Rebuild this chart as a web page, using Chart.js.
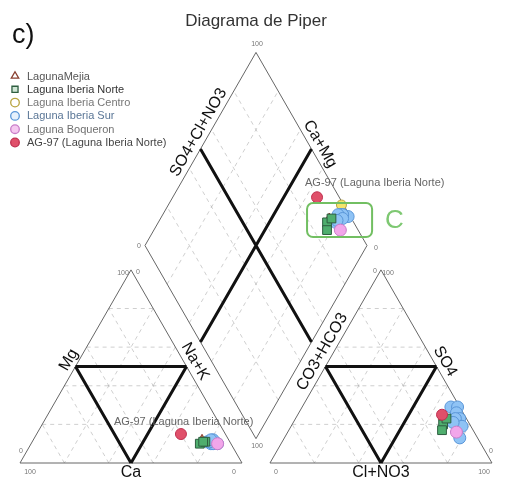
<!DOCTYPE html>
<html><head><meta charset="utf-8">
<script src="https://cdn.jsdelivr.net/npm/chart.js@4/dist/chart.umd.min.js"></script>
<style>html,body{margin:0;padding:0;background:#fff;overflow:hidden}#wrap{position:relative;width:509px;height:478px}</style>
</head><body><div id="wrap"><canvas id="c" width="509" height="478"></canvas></div>
<script>
// ---------------- DATA ----------------
const seriesNames = ["LagunaMejia", "Laguna Iberia Norte", "Laguna Iberia Centro", "Laguna Iberia Sur", "Laguna Boqueron", "AG-97 (Laguna Iberia Norte)"];
// cations in % meq: [Ca, Mg, Na+K]
const mejiaCations   = [[12, 12, 76]];
const norteCations   = [[14, 10, 76], [11, 11, 78], [12, 11, 77]];
const centroCations  = [[11, 11, 78]];
const surCations     = [[9, 11, 80], [6, 10, 84], [9, 10, 81], [7, 12, 81], [10, 11, 79], [8, 10, 82], [9, 11, 80], [8, 12, 80]];
const boqueronCations= [[6, 10, 84]];
const ag97Cations    = [[20, 15, 65]];
// anions in % meq: [CO3+HCO3, SO4, Cl+NO3]
const mejiaAnions    = [[10, 24, 66]];
const norteAnions    = [[12, 20, 68], [14, 17, 69], [9, 23, 68]];
const centroAnions   = [[1, 29, 70]];
const surAnions      = [[4, 29, 67], [1, 29, 70], [3, 26, 71], [3, 23, 74], [5, 23, 72], [4, 19, 77], [8, 13, 79], [7, 21, 72]];
const boqueronAnions = [[8, 16, 76]];
const ag97Anions     = [[10, 25, 65]];
const gridLevels = [20, 40, 60, 80];
const centerLevel = [50];

// ---------------- GEOMETRY (Piper projection) ----------------
const GAP = 12.6;                 // gap between the two triangles, % units
const H = Math.sqrt(3) / 2;
function cationXY(c) { const t = c[0] + c[1] + c[2]; const mg = c[1] / t * 100, na = c[2] / t * 100; return { x: na + mg / 2, y: mg * H }; }
function anionXY(a) { const t = a[0] + a[1] + a[2]; const so4 = a[1] / t * 100, cl = a[2] / t * 100; return { x: 100 + GAP + cl + so4 / 2, y: so4 * H }; }
function diamondXY(p1, p2) { const t = (p2.x - p1.x) + (p2.y - p1.y) / Math.sqrt(3); return { x: p1.x + 0.5 * t, y: p1.y + H * t }; }
const lerp = (a, b, f) => ({ x: a.x + (b.x - a.x) * f, y: a.y + (b.y - a.y) * f });

const LA = { x: 0, y: 0 }, LB = { x: 100, y: 0 }, LC = { x: 50, y: 100 * H };
const RA = { x: 100 + GAP, y: 0 }, RB = { x: 200 + GAP, y: 0 }, RC = { x: 150 + GAP, y: 100 * H };
const DB = { x: 100 + GAP / 2, y: GAP * H }, DL = { x: 50 + GAP / 2, y: GAP * H + 100 * H }, DR = { x: 150 + GAP / 2, y: GAP * H + 100 * H }, DT = { x: 100 + GAP / 2, y: GAP * H + 200 * H };

function triLines(A, B, C, levels) {
  const out = [];
  const corners = [[A, B, C], [B, C, A], [C, A, B]];
  levels.forEach(l => {
    const f = l / 100;
    corners.forEach(([V, U, W]) => { out.push(lerp(U, V, f), lerp(W, V, f), { x: null, y: null }); });
  });
  return out;
}
function diaLines(levels) {
  const out = [];
  levels.forEach(l => {
    const f = l / 100;
    out.push(lerp(DB, DR, f), lerp(DL, DT, f), { x: null, y: null });
    out.push(lerp(DB, DL, f), lerp(DR, DT, f), { x: null, y: null });
  });
  return out;
}
const frame = [LA, LB, LC, LA, { x: null, y: null }, RA, RB, RC, RA, { x: null, y: null }, DB, DR, DT, DL, DB];
const grid = [...triLines(LA, LB, LC, gridLevels), ...triLines(RA, RB, RC, gridLevels), ...diaLines(gridLevels)];
const thick = [...triLines(LA, LB, LC, centerLevel), ...triLines(RA, RB, RC, centerLevel), ...diaLines(centerLevel)];

function samples(cats, ans) {
  const pts = [];
  for (let i = 0; i < cats.length; i++) { const p1 = cationXY(cats[i]), p2 = anionXY(ans[i]); pts.push(p1, p2, diamondXY(p1, p2)); }
  return pts;
}
const styles = [
  { ps: 'triangle', bg: '#c8735a', bc: '#8a4030', r: 5.5, lbg: '#ffffff', tc: '#555' },
  { ps: 'rect', bg: '#4fae6e', bc: '#2e5e40', r: 6.2, lbg: '#cfe6d5', tc: '#333' },
  { ps: 'circle', bg: '#f4e46a', bc: '#b8a440', r: 5, lbg: '#ffffff', tc: '#777' },
  { ps: 'circle', bg: '#8fc3f5', bc: '#5a96d8', r: 6, lbg: '#e6f1fc', tc: '#5a7696' },
  { ps: 'circle', bg: '#f2a6ea', bc: '#c87cc8', r: 6, lbg: '#f5c8f0', tc: '#707070' },
  { ps: 'circle', bg: '#e0506a', bc: '#c03050', r: 5.5, lbg: '#e0506a', tc: '#444' }
];
const allCats = [mejiaCations, norteCations, centroCations, surCations, boqueronCations, ag97Cations];
const allAns = [mejiaAnions, norteAnions, centroAnions, surAnions, boqueronAnions, ag97Anions];
const drawOrder = [6, 1, 5, 4, 3, 0];
const datasets = seriesNames.map((n, i) => ({
  label: n, data: samples(allCats[i], allAns[i]), pointStyle: styles[i].ps,
  backgroundColor: styles[i].bg, borderColor: styles[i].bc, pointRadius: styles[i].r, pointBorderWidth: 1,
  showLine: false, order: drawOrder[i], clip: false
}));
datasets.push({ label: 'grid', data: grid, showLine: true, pointRadius: 0, borderColor: 'rgba(120,120,120,0.45)', borderWidth: 0.8, borderDash: [4, 4], order: 30, clip: false });
datasets.push({ label: 'frame', data: frame, showLine: true, pointRadius: 0, borderColor: '#666', borderWidth: 1, order: 25, clip: false });
datasets.push({ label: 'thick', data: thick, showLine: true, pointRadius: 0, borderColor: '#111', borderWidth: 3, order: 20, clip: false });

// annotation box around group C (in diagram units)
const boxC = { x0: 129.3, x1: 158.6, y0: 101.3, y1: 116.6 };

// ---------------- SCALE MAPPING ----------------
const KX = 2.22, OX = 20, KY = 2.23, OY = 463;
const xMin = -OX / KX, xMax = (509 - OX) / KX, yMin = -(478 - OY) / KY, yMax = OY / KY;

const textPlugin = {
  id: 'piperText',
  afterDatasetsDraw(chart) {
    const ctx = chart.ctx, xs = chart.scales.x, ys = chart.scales.y;
    const P = u => ({ x: xs.getPixelForValue(u.x), y: ys.getPixelForValue(u.y) });
    const F = 'Liberation Sans, Arial, sans-serif';
    ctx.save();
    // box C
    const b0 = P({ x: boxC.x0, y: boxC.y1 }), b1 = P({ x: boxC.x1, y: boxC.y0 });
    ctx.strokeStyle = '#72bf62'; ctx.lineWidth = 2;
    ctx.beginPath(); ctx.roundRect(b0.x, b0.y, b1.x - b0.x, b1.y - b0.y, 6); ctx.stroke();
    ctx.fillStyle = '#7ec872'; ctx.font = '26px ' + F; ctx.textAlign = 'left'; ctx.textBaseline = 'middle';
    ctx.fillText('C', b1.x + 13, (b0.y + b1.y) / 2 + 1);

    // rotated axis labels
    function rot(text, A, B, frac, off, size) {
      const pa = P(A), pb = P(B); const dx = pb.x - pa.x, dy = pb.y - pa.y, len = Math.hypot(dx, dy);
      const nx = -dy / len, ny = dx / len; const p = { x: pa.x + dx * frac + nx * off, y: pa.y + dy * frac + ny * off };
      ctx.save(); ctx.translate(p.x, p.y); ctx.rotate(Math.atan2(dy, dx));
      ctx.fillStyle = '#111'; ctx.font = size + 'px ' + F; ctx.textAlign = 'center'; ctx.textBaseline = 'middle';
      ctx.fillText(text, 0, 0); ctx.restore();
    }
    rot('SO4+Cl+NO3', DL, DT, 0.56, -10, 16);
    rot('Ca+Mg', DT, DR, 0.5, -10, 16);
    rot('Mg', LA, LC, 0.51, -9, 16);
    rot('Na+K', LC, LB, 0.50, -10, 16);
    rot('CO3+HCO3', RA, RC, 0.55, -10, 16);
    rot('SO4', RC, RB, 0.50, -10, 16);
    ctx.fillStyle = '#111'; ctx.font = '16px ' + F; ctx.textAlign = 'center'; ctx.textBaseline = 'top';
    const ca = P(lerp(LA, LB, 0.5)), cl = P(lerp(RA, RB, 0.5));
    ctx.fillText('Ca', ca.x, ca.y + 2); ctx.fillText('Cl+NO3', cl.x, cl.y + 2);

    // tick labels
    ctx.fillStyle = '#777'; ctx.font = '7px ' + F; ctx.textBaseline = 'middle';
    const t = (s, u, dx, dy) => { const p = P(u); ctx.fillText(s, p.x + dx, p.y + dy); };
    t('100', DT, 1, -8); t('100', LA, 10, 9); t('0', LB, -8, 9); t('0', RA, 6, 9); t('100', RB, -8, 9);
    t('0', DR, 9, 3); t('0', DL, -6, 1); t('100', DB, 1, 7); t('0', LA, 1, -12); t('0', RB, -1, -12);
    t('100', LC, -8, 3); t('0', LC, 7, 2); t('0', RC, -6, 1); t('100', RC, 7, 3);

    // annotations
    ctx.fillStyle = '#666'; ctx.font = '11px ' + F; ctx.textAlign = 'left';
    const ag = ag97Cations.map((c, i) => [cationXY(c), anionXY(ag97Anions[i])])[0];
    const d = P(diamondXY(ag[0], ag[1])), c = P(ag[0]);
    ctx.fillText('AG-97 (Laguna Iberia Norte)', d.x - 12, d.y - 14);
    ctx.fillText('AG-97 (Laguna Iberia Norte)', c.x - 67, c.y - 12);

    // title
    ctx.fillStyle = '#333'; ctx.font = '17px ' + F; ctx.textAlign = 'center'; ctx.textBaseline = 'alphabetic';
    ctx.fillText('Diagrama de Piper', 256, 26);
    ctx.fillStyle = '#111'; ctx.font = '27px ' + F; ctx.textAlign = 'left';
    ctx.fillText('c)', 12, 43);

    // legend
    ctx.font = '11px ' + F; ctx.textBaseline = 'middle';
    seriesNames.forEach((n, i) => {
      const y = 76 + i * 13.3;
      ctx.fillStyle = styles[i].lbg; ctx.strokeStyle = styles[i].bc; ctx.lineWidth = 1.3;
      Chart.helpers.drawPoint(ctx, { pointStyle: styles[i].ps, radius: 4.3, rotation: 0, borderWidth: 1.3 }, 15, y);
      ctx.fillStyle = styles[i].tc; ctx.fillText(n, 27, y + 0.5);
    });
    ctx.restore();
  }
};

new Chart(document.getElementById('c'), {
  type: 'scatter',
  data: { datasets },
  options: {
    responsive: false, devicePixelRatio: 1, animation: false,
    layout: { padding: 0, autoPadding: false },
    scales: {
      x: { type: 'linear', display: false, min: xMin, max: xMax },
      y: { type: 'linear', display: false, min: yMin, max: yMax }
    },
    plugins: { legend: { display: false }, tooltip: { enabled: false }, title: { display: false } }
  },
  plugins: [textPlugin]
});
</script>
</body></html>
